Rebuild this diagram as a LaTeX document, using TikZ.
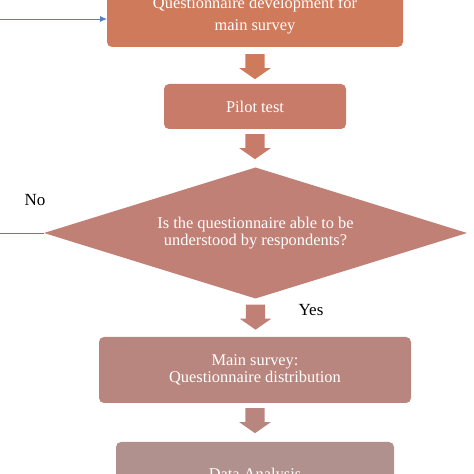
\documentclass[tikz,border=0pt]{standalone}
\usepackage{fontspec}
\setmainfont{Liberation Serif}
\usepackage{tikz}
\usetikzlibrary{shapes.geometric, shapes.arrows, positioning, calc, arrows.meta}
\definecolor{stepA}{HTML}{D07A5C}
\definecolor{stepB}{HTML}{C87B68}
\definecolor{stepC}{HTML}{C08076}
\definecolor{stepD}{HTML}{B8867E}
\definecolor{stepE}{HTML}{B0918D}
\definecolor{loopblue}{HTML}{5A7CC4}
\tikzset{
    stepbox/.style={rectangle, rounded corners=5pt, draw=none, inner sep=0pt, outer sep=0pt,
        align=center, text=white, font=\fontsize{16.4}{17}\selectfont},
    decision/.style={diamond, aspect=3.23, draw=none, inner sep=0pt, outer sep=0pt, align=center,
        text=white, font=\fontsize{16.4}{17}\selectfont},
    fatarrow/.style={single arrow, draw=none, rotate=-90, anchor=tail, minimum height=25pt,
        inner xsep=0pt, inner ysep=9.5pt, single arrow head extend=6pt,
        single arrow head indent=0pt, single arrow tip angle=110},
    answer/.style={font=\fontsize{17}{17}\selectfont, text=black},
    backloop/.style={draw=loopblue, line width=0.9pt, -{Latex[length=7pt, width=6pt]}}
}

\begin{document}
\begin{tikzpicture}[x=1pt, y=1pt]
    \clip (0,0) rectangle (474,474);

    \node[stepbox, fill=stepA, minimum width=296pt, minimum height=62pt,
        font=\fontsize{16.4}{22}\selectfont] (quest) at (255,458)
        {Questionnaire development for\\main survey};
    \node[stepbox, fill=stepB, minimum width=182pt, minimum height=45pt] (pilot) at (255,367.5) {Pilot test};
    \node[decision, fill=stepC, minimum width=423pt, minimum height=131pt] (decide) at (255.5,241)
        {Is the questionnaire able to be\\understood by respondents?};
    \node[stepbox, fill=stepD, minimum width=312pt, minimum height=66pt] (survey) at (255,104)
        {Main survey:\\Questionnaire distribution};
    \node[stepbox, fill=stepE, minimum width=278pt, minimum height=68pt] (analysis) at (255,-2) {Data Analysis};

    % block arrows between the steps
    \node[fatarrow, fill=stepA] (a1) at ([yshift=-7pt]quest.south) {};
    \node[fatarrow, fill=stepB] (a2) at ([yshift=-5pt]pilot.south) {};
    \node[fatarrow, fill=stepC] (a3) at ([yshift=-6pt]decide.south) {};
    \node[fatarrow, fill=stepD] (a4) at ([yshift=-5pt]survey.south) {};

    \node[answer] (no) at (35,274) {No};
    \node[answer] (yes) at (311,164) {Yes};

    % loop back when the answer is no
    \draw[backloop] (decide.west) -- ++(-70,0) |- ([yshift=-3pt]quest.west);
\end{tikzpicture}
\end{document}
